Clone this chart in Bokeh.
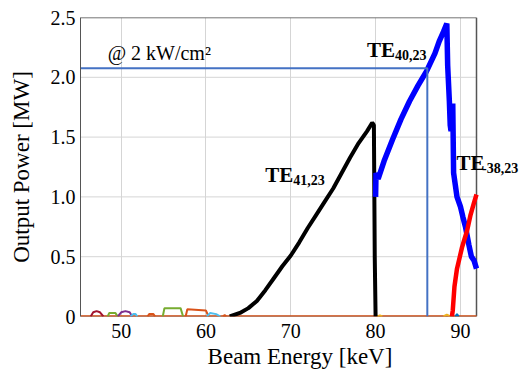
from bokeh.plotting import figure
from bokeh.models import Range1d, Label, FixedTicker
from bokeh.embed import file_html
from bokeh.resources import INLINE

# ---- data ----
black_x = [62.8, 64, 65, 66, 67, 68, 69, 70, 71, 72, 73, 74, 75, 76, 77, 78, 79, 79.6, 79.8, 79.9, 80.0]
black_y = [0, 0.03, 0.07, 0.13, 0.22, 0.32, 0.42, 0.51, 0.62, 0.74, 0.85, 0.96, 1.07, 1.2, 1.33, 1.45, 1.55, 1.62, 1.60, 0.5, 0]

blue_x = [80.0, 80.05, 80.3, 81, 82, 83, 84, 85, 86, 87, 87.5, 88, 88.4, 88.5, 88.7, 88.8, 88.9, 89.0, 89.1, 89.2, 89.4, 89.6, 90.0, 90.3, 90.6, 91.0, 91.3, 91.6, 91.9]
blue_y = [1.0, 1.2, 1.15, 1.3, 1.48, 1.65, 1.8, 1.93, 2.05, 2.2, 2.3, 2.38, 2.45, 2.1, 1.8, 1.6, 1.55, 1.6, 1.78, 1.2, 1.1, 1.0, 0.92, 0.83, 0.75, 0.6, 0.5, 0.47, 0.4]

red_x = [89.0, 89.1, 89.3, 89.6, 89.9, 90.2, 90.5, 90.8, 91.2, 91.6, 91.9]
red_y = [0, 0.05, 0.25, 0.4, 0.49, 0.58, 0.65, 0.72, 0.85, 0.95, 1.02]

ref_x = [45.2, 86.1, 86.1]
ref_y = [2.075, 2.075, 0]

bumps = [
    ("#A2142F", [46.4, 46.7, 47.1, 47.5, 47.9], [0, 0.035, 0.045, 0.035, 0]),
    ("#77AC30", [48.4, 48.6, 49.3, 49.6], [0, 0.03, 0.03, 0]),
    ("#7E2F8E", [49.6, 50.0, 50.5, 51.0, 51.3], [0, 0.035, 0.045, 0.035, 0]),
    ("#4DBEEE", [51.1, 51.4, 51.7, 51.9], [0, 0.02, 0.02, 0]),
    ("#D95319", [53.1, 53.3, 53.8, 54.0], [0, 0.02, 0.02, 0]),
    ("#77AC30", [54.9, 55.1, 57.0, 57.3], [0, 0.07, 0.07, 0]),
    ("#D95319", [57.6, 57.8, 60.0, 60.3], [0, 0.06, 0.05, 0]),
    ("#4DBEEE", [60.1, 60.5, 61.2, 61.7], [0, 0.03, 0.02, 0]),
    ("#D95319", [62.0, 62.2, 62.4], [0, 0.012, 0]),
    ("#EDB120", [80.2, 80.5, 80.8], [0, 0.01, 0]),
    ("#EDB120", [88.0, 88.4, 88.8], [0, 0.015, 0]),
    ("#0072BD", [89.4, 89.6, 89.8], [0, 0.02, 0]),
]

x_ticks = [50, 60, 70, 80, 90]
y_ticks = [0, 0.5, 1.0, 1.5, 2.0, 2.5]
y_tick_labels = {0: "0", 0.5: "0.5", 1: "1.0", 1.5: "1.5", 2: "2.0", 2.5: "2.5"}

X0, X1 = 45.2, 91.9      # data extent of the axes box
Y0, Y1 = 0.0, 2.5

SERIF = "Liberation Serif"

# frame: box 396 px wide, extra room on the right for the outside label
FRAME_BOX_W = 396
W = 519
LEFT = 80
frame_w = W - LEFT
x_end = X0 + frame_w * (X1 - X0) / FRAME_BOX_W

p = figure(width=W, height=379, output_backend="svg", toolbar_location=None,
           x_range=Range1d(X0, x_end), y_range=Range1d(Y0, Y1),
           min_border_left=LEFT, min_border_right=0, min_border_top=17, min_border_bottom=63)
p.background_fill_color = "white"
p.border_fill_color = "white"
p.outline_line_color = None

for ax in (p.xaxis[0], p.yaxis[0]):
    ax.major_label_text_font = SERIF
    ax.major_label_text_font_size = "20px"
    ax.major_label_text_color = "black"
    ax.axis_label_text_font = SERIF
    ax.axis_label_text_font_size = "23px"
    ax.axis_label_text_font_style = "normal"
    ax.axis_label_text_color = "black"
    ax.major_tick_in = 0
    ax.major_tick_out = 0
    ax.minor_tick_in = 0
    ax.minor_tick_out = 0

p.yaxis.axis_line_color = "#555555"
p.xaxis.axis_line_color = None
p.xaxis.ticker = FixedTicker(ticks=x_ticks)
p.yaxis.ticker = FixedTicker(ticks=y_ticks)
p.yaxis.major_label_overrides = y_tick_labels
p.xaxis.axis_label = "Beam Energy [keV]"
p.yaxis.axis_label = "Output Power [MW]"
p.xaxis.major_label_standoff = 7
p.xaxis.axis_label_standoff = 3
p.yaxis.major_label_standoff = 5
p.yaxis.axis_label_standoff = 14

p.xgrid.grid_line_color = "#D5D5D5"
p.ygrid.visible = False
GRID = "#D5D5D5"
# horizontal grid lines limited to the axes box
p.segment(x0=[X0] * len(y_ticks), x1=[X1] * len(y_ticks), y0=y_ticks, y1=y_ticks,
          line_color=GRID, line_width=1)

# axes box (top, right, bottom)
p.segment(x0=[X0, X1, X0], x1=[X1, X1, X1], y0=[Y1, Y0, Y0], y1=[Y1, Y1, Y0],
          line_color="#555555", line_width=1.5)

# baseline and bumps
p.line([X0, X1], [0, 0], line_color="#D95319", line_width=2.5)
for c, bx, by in bumps:
    p.line(bx, by, line_color=c, line_width=2)

p.line(black_x, black_y, line_color="black", line_width=4)
p.line(blue_x, blue_y, line_color="#0000FF", line_width=5.5)
p.line(red_x, red_y, line_color="#FF0000", line_width=4.5)
p.line(ref_x, ref_y, line_color="#4472C4", line_width=2)

# texts
def lab(x, y, t, size, bold=False):
    p.add_layout(Label(x=x, y=y, text=t, text_font=SERIF, text_font_size=size,
                       text_font_style="bold" if bold else "normal",
                       text_color="black", text_baseline="alphabetic", text_align="left"))

lab(48.4, 2.2, "@ 2 kW/cm\u00b2", "20px")
lab(79.0, 2.23, "TE", "21px", True)
lab(82.3, 2.19, "40,23", "14px", True)
lab(67.0, 1.18, "TE", "21px", True)
lab(70.3, 1.14, "41,23", "14px", True)
lab(89.55, 1.28, "TE", "21px", True)
lab(92.55, 1.24, "-38,23", "14px", True)

open("out.html", "w").write(file_html(p, INLINE))
